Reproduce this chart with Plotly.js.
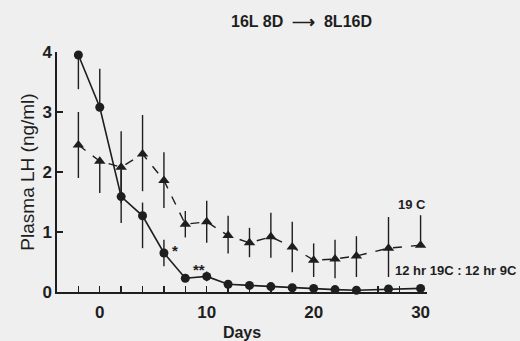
<!DOCTYPE html>
<html>
<head>
<meta charset="utf-8">
<script src="https://cdn.plot.ly/plotly-3.0.1.min.js"></script>
<style>html,body{margin:0;padding:0;background:#efefef;}#chart{width:520px;height:341px;}</style>
</head>
<body>
<div id="chart"></div>
<script>
const days = [-2, 0, 2, 4, 6, 8, 10, 12, 14, 16, 18, 20, 22, 24, 27, 30];
// solid line, circles
const circleLH      = [3.95, 3.08, 1.59, 1.27, 0.65, 0.23, 0.26, 0.13, 0.11, 0.09, 0.07, 0.06, 0.04, 0.03, 0.05, 0.06];
const circleErrUp   = [0.00, 0.64, 0.44, 0.22, 0.22, 0.00, 0.08, 0.00, 0.00, 0.00, 0.00, 0.00, 0.00, 0.00, 0.00, 0.00];
const circleErrDown = [0.57, 0.00, 0.44, 0.54, 0.22, 0.00, 0.08, 0.00, 0.00, 0.00, 0.00, 0.00, 0.00, 0.00, 0.00, 0.00];
// dashed line, triangles
const triLH      = [2.45, 2.18, 2.08, 2.30, 1.86, 1.13, 1.17, 0.94, 0.82, 0.92, 0.75, 0.53, 0.55, 0.60, 0.73, 0.78];
const triErrUp   = [0.55, 0.00, 0.60, 0.65, 0.47, 0.22, 0.35, 0.33, 0.25, 0.40, 0.42, 0.28, 0.32, 0.33, 0.52, 0.50];
const triErrDown = [0.55, 0.53, 0.60, 0.62, 0.46, 0.22, 0.35, 0.30, 0.24, 0.35, 0.42, 0.28, 0.32, 0.35, 0.48, 0.00];
const xTickVals = [0, 10, 20, 30];
const yTickVals = [0, 1, 2, 3, 4];

const ink = '#1e1e1e';
const fam = 'Liberation Sans, Arial, sans-serif';

const traces = [
  {
    x: days, y: triLH, mode: 'lines+markers', type: 'scatter',
    line: {color: ink, width: 1.4, dash: 'dash'},
    marker: {symbol: 'triangle-up', size: 10, color: ink},
    error_y: {type: 'data', symmetric: false, array: triErrUp, arrayminus: triErrDown, width: 0, thickness: 1.4, color: ink},
    cliponaxis: false, hoverinfo: 'skip'
  },
  {
    x: days, y: circleLH, mode: 'lines+markers', type: 'scatter',
    line: {color: ink, width: 1.6},
    marker: {symbol: 'circle', size: 9, color: ink},
    error_y: {type: 'data', symmetric: false, array: circleErrUp, arrayminus: circleErrDown, width: 0, thickness: 1.4, color: ink},
    cliponaxis: false, hoverinfo: 'skip'
  }
];

const layout = {
  width: 520, height: 341,
  margin: {l: 57, r: 93, t: 52, b: 49},
  paper_bgcolor: '#efefef', plot_bgcolor: 'rgba(0,0,0,0)',
  showlegend: false,
  font: {family: fam, color: ink},
  xaxis: {
    range: [-4, 30.6], showgrid: false, zeroline: false,
    showline: true, linecolor: ink, linewidth: 1.6,
    tickvals: xTickVals, ticks: 'inside', ticklen: 6, tickwidth: 1.4, tickcolor: ink,
    ticklabelstandoff: 4,
    minor: {dtick: 2, tick0: 0, ticks: 'inside', ticklen: 6, tickwidth: 1.4, tickcolor: ink, showgrid: false},
    tickfont: {size: 17, family: fam, color: ink, weight: 'bold'},
    title: {text: 'Days', font: {size: 16, family: fam, color: ink, weight: 'bold'}, standoff: 9}
  },
  yaxis: {
    range: [0, 4], showgrid: false, zeroline: false,
    showline: true, linecolor: ink, linewidth: 1.6,
    tickvals: yTickVals, ticks: 'inside', ticklen: 6, tickwidth: 1.4, tickcolor: ink,
    tickfont: {size: 17, family: fam, color: ink, weight: 'bold'},
    title: {text: 'Plasma LH (ng/ml)', font: {size: 19, family: fam, color: ink}, standoff: 3}
  },
  annotations: [
    {xref: 'paper', yref: 'paper', x: (301 - 57) / 370, y: 1 + (52 - 11) / 240, text: '16L 8D  ⟶  8L16D', showarrow: false,
     font: {size: 16, family: fam, color: ink, weight: 'bold'}},
    {xref: 'x', yref: 'y', x: 29.2, y: 1.46, text: '19 C', showarrow: false, xanchor: 'center',
     font: {size: 13, family: fam, color: ink, weight: 'bold'}},
    {xref: 'x', yref: 'y', x: 27.4, y: 0.36, text: '12 hr 19C : 12 hr 9C', showarrow: false, xanchor: 'left',
     font: {size: 13, family: fam, color: ink, weight: 'bold'}},
    {xref: 'x', yref: 'y', x: 6.6, y: 0.7, text: '*', showarrow: false, xanchor: 'left',
     font: {size: 15, family: fam, color: ink, weight: 'bold'}},
    {xref: 'x', yref: 'y', x: 9.3, y: 0.37, text: '**', showarrow: false, xanchor: 'center',
     font: {size: 15, family: fam, color: ink, weight: 'bold'}}
  ]
};

Plotly.newPlot('chart', traces, layout, {displayModeBar: false, staticPlot: true});
</script>
</body>
</html>
